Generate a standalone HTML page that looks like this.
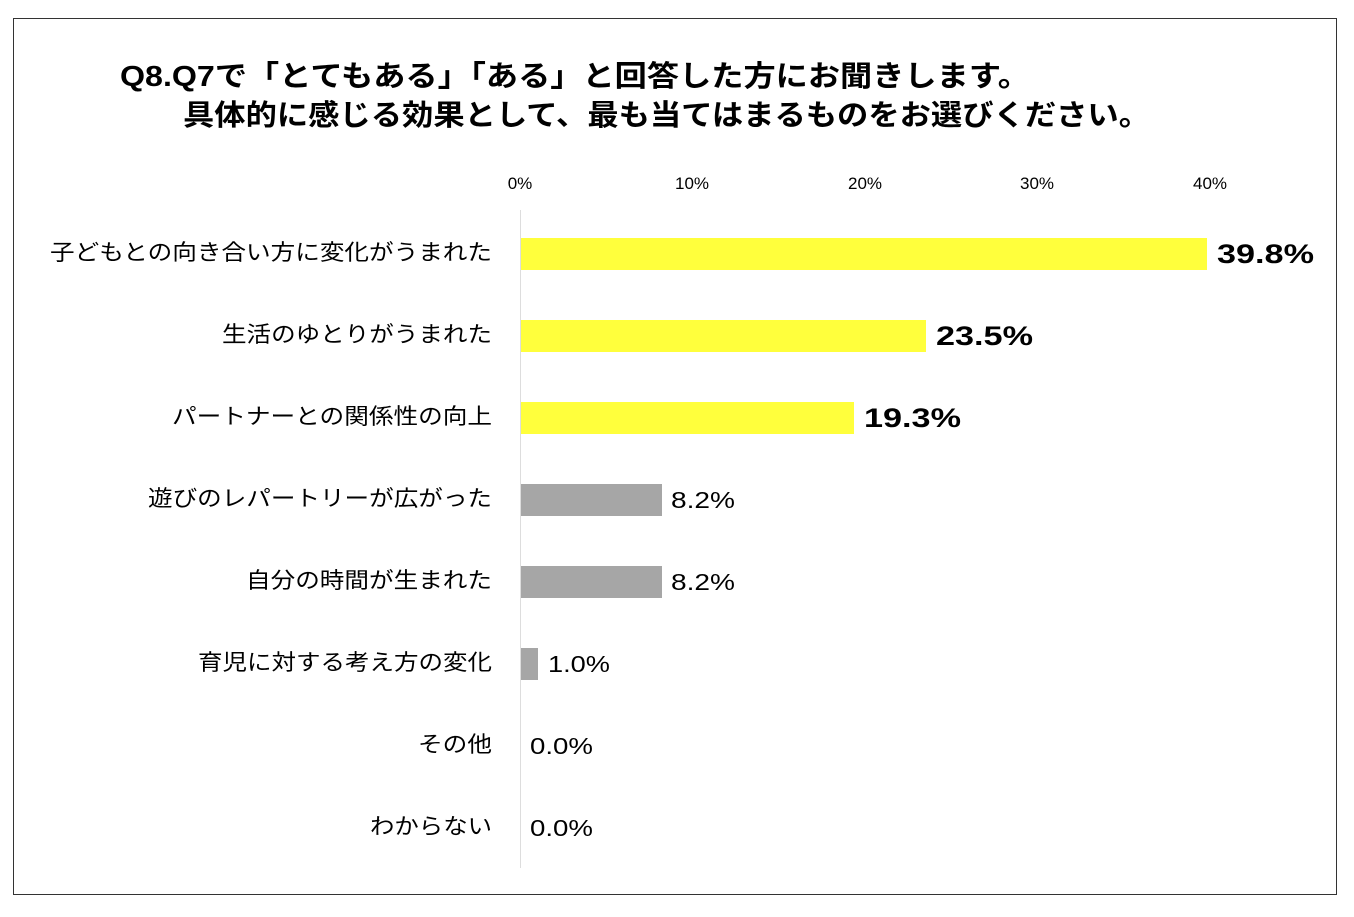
<!DOCTYPE html>
<html><head><meta charset="utf-8"><style>
body{margin:0;background:#fff;}
svg text{font-family:"Liberation Sans","Noto Sans CJK JP",sans-serif;}
</style></head><body>
<svg width="1354" height="912" xmlns="http://www.w3.org/2000/svg">
<rect x="13.5" y="18.5" width="1323" height="876" fill="#fff" stroke="#333" stroke-width="1"/>
<text x="120" y="86" font-size="29" font-weight="bold" fill="#000" textLength="910" lengthAdjust="spacingAndGlyphs">Q8.Q7で「とてもある」「ある」と回答した方にお聞きします。</text>
<text x="183" y="125" font-size="29" font-weight="bold" fill="#000" textLength="967" lengthAdjust="spacingAndGlyphs">具体的に感じる効果として、最も当てはまるものをお選びください。</text>
<g font-size="17" fill="#000" text-anchor="middle">
<text x="520" y="189">0%</text><text x="692" y="189">10%</text><text x="865" y="189">20%</text><text x="1037" y="189">30%</text><text x="1210" y="189">40%</text>
</g>
<line x1="520.5" y1="210" x2="520.5" y2="868" stroke="#ddd" stroke-width="1"/>
<g fill="#FFFF3C">
<rect x="521" y="238" width="686" height="32"/>
<rect x="521" y="320" width="405" height="32"/>
<rect x="521" y="402" width="333" height="32"/>
</g>
<g fill="#A6A6A6">
<rect x="521" y="484" width="141" height="32"/>
<rect x="521" y="566" width="141" height="32"/>
<rect x="521" y="648" width="17" height="32"/>
</g>
<g font-size="22" fill="#000" lengthAdjust="spacingAndGlyphs">
<text x="50" y="260" textLength="442" lengthAdjust="spacingAndGlyphs">子どもとの向き合い方に変化がうまれた</text>
<text x="222" y="342" textLength="270" lengthAdjust="spacingAndGlyphs">生活のゆとりがうまれた</text>
<text x="172" y="424" textLength="320" lengthAdjust="spacingAndGlyphs">パートナーとの関係性の向上</text>
<text x="148" y="506" textLength="344" lengthAdjust="spacingAndGlyphs">遊びのレパートリーが広がった</text>
<text x="246" y="588" textLength="246" lengthAdjust="spacingAndGlyphs">自分の時間が生まれた</text>
<text x="198" y="670" textLength="294" lengthAdjust="spacingAndGlyphs">育児に対する考え方の変化</text>
<text x="418" y="752" textLength="74" lengthAdjust="spacingAndGlyphs">その他</text>
<text x="370" y="834" textLength="122" lengthAdjust="spacingAndGlyphs">わからない</text>
</g>
<g font-size="27" font-weight="bold" fill="#000">
<text x="1217" y="263" textLength="97" lengthAdjust="spacingAndGlyphs">39.8%</text>
<text x="936" y="345" textLength="97" lengthAdjust="spacingAndGlyphs">23.5%</text>
<text x="864" y="427" textLength="97" lengthAdjust="spacingAndGlyphs">19.3%</text>
</g>
<g font-size="23" fill="#000">
<text x="671" y="508" textLength="64" lengthAdjust="spacingAndGlyphs">8.2%</text>
<text x="671" y="590" textLength="64" lengthAdjust="spacingAndGlyphs">8.2%</text>
<text x="548" y="672" textLength="62" lengthAdjust="spacingAndGlyphs">1.0%</text>
<text x="530" y="754" textLength="63" lengthAdjust="spacingAndGlyphs">0.0%</text>
<text x="530" y="836" textLength="63" lengthAdjust="spacingAndGlyphs">0.0%</text>
</g>
</svg>
</body></html>
